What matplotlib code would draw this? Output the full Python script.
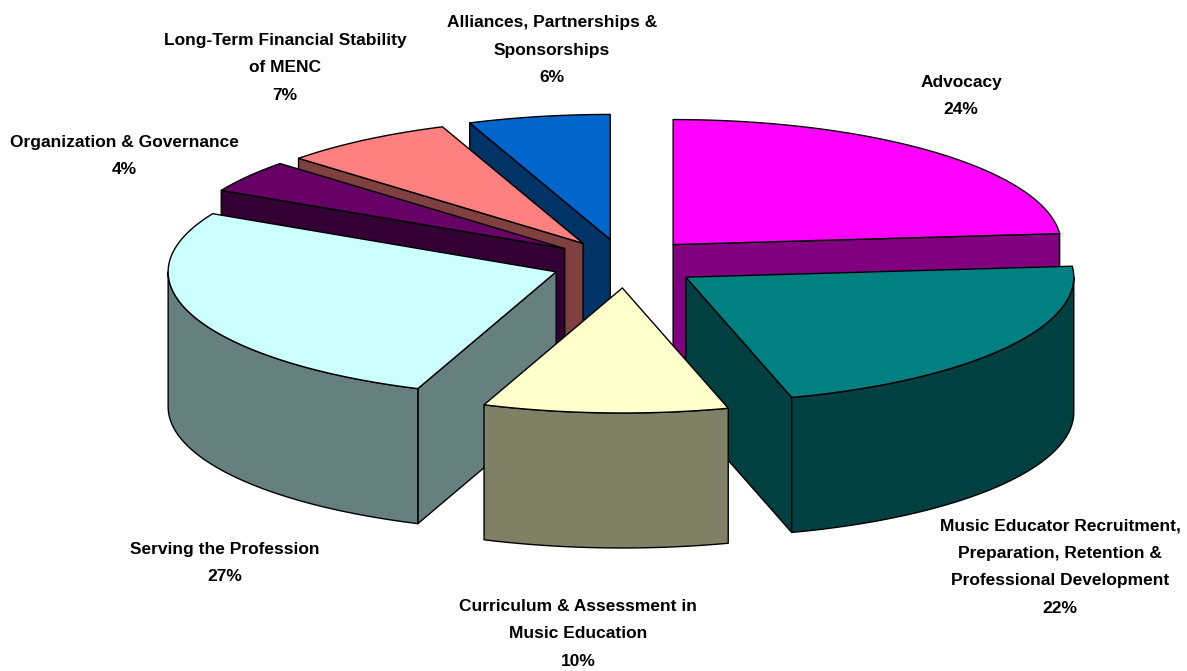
import numpy as np
import matplotlib
matplotlib.use("Agg")
import matplotlib.pyplot as plt

names = ["Advocacy",
         "Music Educator Recruitment,\nPreparation, Retention &\nProfessional Development",
         "Curriculum & Assessment in\nMusic Education",
         "Serving the Profession",
         "Organization & Governance",
         "Long-Term Financial Stability\nof MENC",
         "Alliances, Partnerships &\nSponsorships"]
# estimated from the slice corners, labels show them rounded
shares = [23.6, 22.0, 10.2, 26.9, 4.2, 7.2, 5.9]

top_colors = ["#FF00FF", "#008080", "#FFFFCC", "#CCFFFF", "#660066", "#FF8080", "#0066CC"]
side_colors = ["#800080", "#004040", "#808066", "#668080", "#330033", "#804040", "#003366"]

# label centres in pixels, same order as names
label_x = [961, 1060, 578, 225, 124, 285, 552]
label_y = [96, 567, 634, 563, 156, 68, 50]

# pie shape in pixels
cx, cy = 623.5, 263
rx, ry = 388, 125
depth = 135
explode_x, explode_y = 72, 25
# small corrections to where each slice sits
nudge_x = [1, 3, 2, 0, 0, 0, 0]
nudge_y = [0, 0, 0, 0, 0, 1, 1]

# back to front
draw_order = [6, 5, 4, 0, 3, 1, 2]

fig = plt.figure(figsize=(11.87, 6.71), dpi=100)
ax = fig.add_axes([0, 0, 1, 1])
ax.set_xlim(0, 1187)
ax.set_ylim(671, 0)
ax.axis("off")


def rim(ax0, ay0, t):
    # t is clockwise from 12 o'clock
    return ax0 + rx * np.sin(t), ay0 - ry * np.cos(t)


def face(xs, ys, color, z):
    ax.fill(xs, ys, facecolor=color, edgecolor="black", linewidth=1.0, zorder=z, joinstyle="round")


edges = np.radians(np.concatenate([[0], np.cumsum(shares)]) * 360 / sum(shares))

for n, i in enumerate(draw_order):
    t0, t1 = edges[i], edges[i + 1]
    mid = (t0 + t1) / 2
    ax0 = cx + explode_x * np.sin(mid) + nudge_x[i]
    ay0 = cy - explode_y * np.cos(mid) + nudge_y[i]
    z = n * 10

    # cut walls, only when they face us
    for t, visible in [(t0, np.sin(t0) < 0), (t1, np.sin(t1) > 0)]:
        if visible:
            px, py = rim(ax0, ay0, t)
            face([ax0, px, px, ax0], [ay0, py, py + depth, ay0 + depth], side_colors[i], z)

    # outer wall, front half of the ellipse only
    a = max(t0, np.pi / 2)
    b = min(t1, 3 * np.pi / 2)
    if b > a:
        t = np.linspace(a, b, 80)
        px, py = rim(ax0, ay0, t)
        face(np.r_[px, px[::-1]], np.r_[py, py[::-1] + depth], side_colors[i], z + 1)

    # top
    t = np.linspace(t0, t1, 120)
    px, py = rim(ax0, ay0, t)
    face(np.r_[ax0, px], np.r_[ay0, py], top_colors[i], z + 2)

for i in range(len(names)):
    ax.text(label_x[i], label_y[i], "%s\n%d%%" % (names[i], round(shares[i])), ha="center", va="center",
            family="Liberation Sans", fontweight="bold", fontsize=12.5, color="black",
            linespacing=2.03, zorder=200)

fig.savefig("out.png", dpi=100, facecolor="white")
